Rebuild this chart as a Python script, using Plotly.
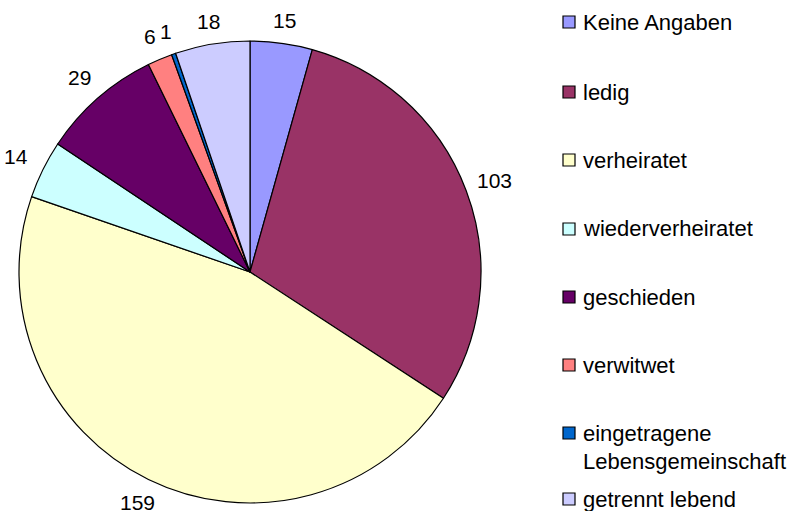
import math
import plotly.graph_objects as go

categories = ["Keine Angaben", "ledig", "verheiratet", "wiederverheiratet",
              "geschieden", "verwitwet", "eingetragene<br>Lebensgemeinschaft",
              "getrennt lebend"]
values = [15, 103, 159, 14, 29, 6, 1, 18]
colors = ["#9999FF", "#993366", "#FFFFCC", "#CCFFFF",
          "#660066", "#FF8080", "#0066CC", "#CCCCFF"]

W, H = 794, 511
FONT = "Liberation Sans, Arial, sans-serif"

# pie geometry (pixels)
CX, CY, R = 250, 272, 231

fig = go.Figure(go.Pie(
    labels=categories,
    values=values,
    sort=False,
    direction="clockwise",
    rotation=0,
    marker=dict(colors=colors, line=dict(color="black", width=1.2)),
    textinfo="none",
    hoverinfo="label+value",
    showlegend=False,
    automargin=False,
    domain=dict(x=[(CX - R) / W, (CX + R) / W],
                y=[(H - CY - R) / H, (H - CY + R) / H]),
))

annotations = []
# value labels outside the slices
total = sum(values)
cum = 0
for v in values:
    mid = (cum + v / 2) / total * 2 * math.pi
    cum += v
    d = R + 21 + 10 * abs(math.sin(mid))
    px = CX + d * math.sin(mid)
    py = CY - d * math.cos(mid)
    annotations.append(dict(xref="paper", yref="paper",
                            x=px / W, y=1 - py / H,
                            xanchor="center", yanchor="middle",
                            text=str(v), showarrow=False,
                            font=dict(family=FONT, size=21, color="black")))

# manual legend
legend_y = [22, 92, 160, 229, 297, 365, 433, 499]
shapes = []
for i, (cat, col) in enumerate(zip(categories, colors)):
    yc = legend_y[i]
    shapes.append(dict(type="rect", xref="paper", yref="paper",
                       x0=563 / W, x1=575 / W,
                       y0=1 - (yc + 6) / H, y1=1 - (yc - 6) / H,
                       fillcolor=col, line=dict(color="black", width=1.2)))
    lines = cat.split("<br>")
    for j, t in enumerate(lines):
        annotations.append(dict(xref="paper", yref="paper",
                                x=581 / W, y=1 - (yc + j * 28) / H,
                                xanchor="left", yanchor="middle",
                                text=t, showarrow=False,
                                font=dict(family=FONT, size=22, color="black")))

fig.update_layout(
    width=W, height=H,
    margin=dict(l=0, r=0, t=0, b=0, autoexpand=False),
    paper_bgcolor="white",
    plot_bgcolor="white",
    shapes=shapes,
    annotations=annotations,
)

fig.write_html("out.html",
               config={"displayModeBar": False},
               post_script="document.body.style.margin='0';"
                           "document.body.style.overflow='hidden';")
